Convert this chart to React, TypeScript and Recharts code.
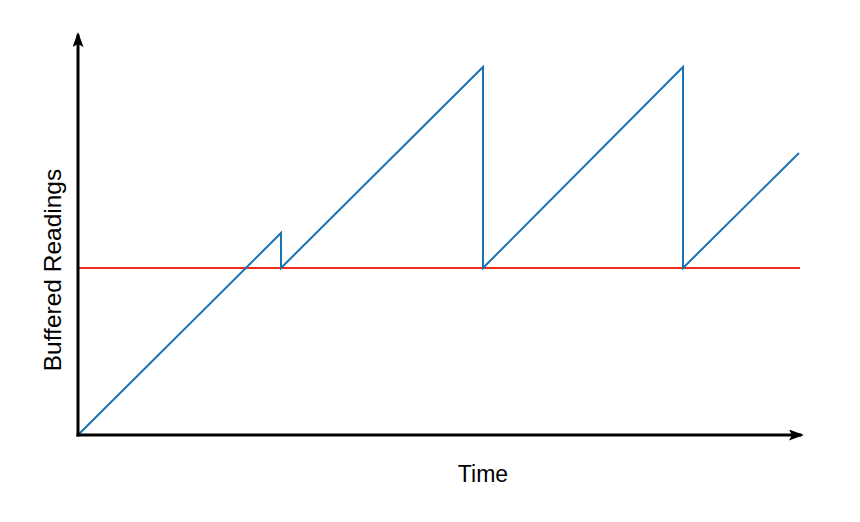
import { Line, LineChart, ReferenceLine, XAxis, YAxis } from 'recharts'

// readings pile up until the batch is flushed, then drop back to the threshold
const time = [0, 203, 203, 405, 405, 605, 605, 721]
const readings = [0, 202, 167, 368, 167, 368, 167, 282]
const threshold = 167
const xLabel = 'Time'
const yLabel = 'Buffered Readings'

const data = time.map((t, i) => ({ t, v: readings[i] }))

const FONT = '"Liberation Sans", Arial, Helvetica, sans-serif'

const TimeLabel = () => (
    <text x={483} y={482} textAnchor="middle" fontSize={23} fontFamily={FONT} fill="#000">
        {xLabel}
    </text>
)

const ReadingsLabel = () => (
    <text
        x={0}
        y={0}
        transform="translate(61, 270) rotate(-90)"
        textAnchor="middle"
        fontSize={24.5}
        fontFamily={FONT}
        fill="#000"
    >
        {yLabel}
    </text>
)

const App = () => {
    return (
        <div style={{ position: 'absolute', left: 0, top: 0, width: 860, height: 522, background: '#fff' }}>
            <LineChart width={860} height={522} data={data} margin={{ top: 36, right: 60, bottom: 0, left: 0 }}>
                <defs>
                    <marker
                        id="arrowHead"
                        markerUnits="userSpaceOnUse"
                        markerWidth={15}
                        markerHeight={11}
                        refX={11}
                        refY={5.5}
                        orient="auto-start-reverse"
                    >
                        <path d="M0,0 L15,5.5 L0,11 L3,5.5 z" fill="#000" />
                    </marker>
                </defs>
                <XAxis
                    type="number"
                    dataKey="t"
                    domain={[0, 722]}
                    height={87}
                    tick={false}
                    tickLine={false}
                    axisLine={{ stroke: '#000', strokeWidth: 3, strokeLinecap: 'square', markerEnd: 'url(#arrowHead)' }}
                    label={<TimeLabel />}
                />
                <YAxis
                    type="number"
                    domain={[0, 399]}
                    width={78}
                    tick={false}
                    tickLine={false}
                    axisLine={{ stroke: '#000', strokeWidth: 3, strokeLinecap: 'square', markerStart: 'url(#arrowHead)' }}
                    label={<ReadingsLabel />}
                />
                <ReferenceLine y={threshold} stroke="#ee2b1c" strokeWidth={2} />
                <Line
                    type="linear"
                    dataKey="v"
                    stroke="#1b72b3"
                    strokeWidth={2}
                    dot={false}
                    activeDot={false}
                    isAnimationActive={false}
                />
            </LineChart>
        </div>
    )
}

export default App
